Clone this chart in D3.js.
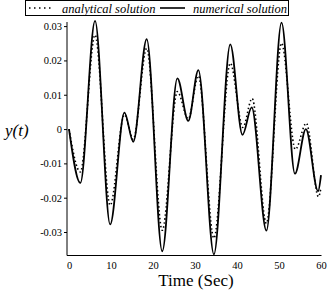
<!DOCTYPE html>
<html>
<head>
<meta charset="utf-8">
<script src="https://cdn.jsdelivr.net/npm/d3@7"></script>
<style>
  body { margin: 0; background: #fff; }
  svg text { font-family: "Liberation Serif", "DejaVu Serif", serif; fill: #000; }
</style>
</head>
<body>
<div id="chart"></div>
<script>
// time of each extremum (s)
var timeNum = [0, 2.7, 6.2, 9.8, 13.2, 15.3, 18.5, 22.2, 25.8, 28.4, 30.8, 34.5, 38.4, 41.3, 43.5, 47.0, 50.6, 53.8, 56.4, 59.3, 60];
var yNum    = [0, -0.0157, 0.0315, -0.0278, 0.0048, -0.0037, 0.0262, -0.0356, 0.0148, 0.0024, 0.0172, -0.0365, 0.0247, -0.0017, 0.0063, -0.0296, 0.0310, -0.0130, 0.0000, -0.0181, -0.0134];

var timeAna = [0, 2.7, 6.2, 9.8, 13.2, 15.3, 18.5, 22.2, 25.8, 28.4, 30.8, 34.5, 38.4, 41.4, 43.6, 47.0, 50.6, 53.9, 56.5, 59.4, 60];
var yAna    = [0, -0.0125, 0.0274, -0.0222, 0.0042, -0.0030, 0.0235, -0.0295, 0.0109, 0.0030, 0.0155, -0.0318, 0.0192, 0.0005, 0.0089, -0.0275, 0.0250, -0.0059, 0.0017, -0.0197, -0.0170];

var yTicks = [-0.03, -0.02, -0.01, 0, 0.01, 0.02, 0.03];
var xTicks = [0, 10, 20, 30, 40, 50, 60];

var width = 329, height = 292,
	serif = "'Liberation Serif', 'DejaVu Serif', serif";

var svg = d3.select("#chart").append("svg")
	.attr("width", width)
	.attr("height", height);

var xScale = d3.scaleLinear().domain([0, 60]).range([69, 321]);
var yScale = d3.scaleLinear().domain([-0.0367, 0.0312]).range([255, 22]);

//axes
var yAxis = d3.axisLeft(yScale)
	.tickValues(yTicks)
	.tickSize(3)
	.tickSizeOuter(0)
	.tickFormat(function(d) { return d === 0 ? "0" : d.toFixed(2); });

var gy = svg.append("g")
	.attr("transform", "translate(67,0)")
	.call(yAxis);
gy.attr("font-family", null);
gy.select(".domain").remove();
gy.selectAll("text")
	.style("font-family", serif)
	.style("font-size", "10.5px")
	.attr("x", -5);

var xAxis = d3.axisBottom(xScale)
	.tickValues(xTicks)
	.tickSize(0)
	.tickFormat(d3.format("d"));

var gx = svg.append("g")
	.attr("transform", "translate(0,255.5)")
	.call(xAxis);
gx.attr("font-family", null);
gx.select(".domain").remove();
gx.selectAll("text")
	.style("font-family", serif)
	.style("font-size", "10.5px")
	.attr("y", 6);

svg.append("line")
	.attr("x1", 67).attr("x2", 67)
	.attr("y1", 22).attr("y2", 255.5)
	.attr("stroke", "#000").attr("stroke-width", 1);
svg.append("line")
	.attr("x1", 67).attr("x2", 321.5)
	.attr("y1", 255.5).attr("y2", 255.5)
	.attr("stroke", "#000").attr("stroke-width", 1);

//curves
var numData = timeNum.map(function(t, i) { return [t, yNum[i]]; });
var anaData = timeAna.map(function(t, i) { return [t, yAna[i]]; });

var line = d3.line()
	.x(function(d) { return xScale(d[0]); })
	.y(function(d) { return yScale(d[1]); })
	.curve(d3.curveMonotoneX);

svg.append("path")
	.datum(anaData)
	.attr("d", line)
	.attr("fill", "none")
	.attr("stroke", "#000")
	.attr("stroke-width", 1.6)
	.attr("stroke-dasharray", "1.5,2.5");

svg.append("path")
	.datum(numData)
	.attr("d", line)
	.attr("fill", "none")
	.attr("stroke", "#000")
	.attr("stroke-width", 1.8);

//labels
svg.append("text")
	.attr("x", 196)
	.attr("y", 286)
	.attr("text-anchor", "middle")
	.style("font-family", serif)
	.style("font-size", "17px")
	.text("Time (Sec)");

svg.append("text")
	.attr("x", 5)
	.attr("y", 136)
	.style("font-family", serif)
	.style("font-size", "17px")
	.style("font-style", "italic")
	.text("y(t)");

//legend
var legend = svg.append("g");
legend.append("rect")
	.attr("x", 25.5).attr("y", 0.5)
	.attr("width", 263).attr("height", 15)
	.attr("fill", "#fff")
	.attr("stroke", "#000")
	.attr("stroke-width", 1);
legend.append("line")
	.attr("x1", 29).attr("x2", 54)
	.attr("y1", 8).attr("y2", 8)
	.attr("stroke", "#000").attr("stroke-width", 1.6)
	.attr("stroke-dasharray", "1.5,3.5");
legend.append("text")
	.attr("x", 62).attr("y", 12.5)
	.style("font-family", serif)
	.style("font-size", "12.5px")
	.style("font-style", "italic")
	.text("analytical solution");
legend.append("line")
	.attr("x1", 160).attr("x2", 185)
	.attr("y1", 8).attr("y2", 8)
	.attr("stroke", "#000").attr("stroke-width", 1.6);
legend.append("text")
	.attr("x", 193).attr("y", 12.5)
	.style("font-family", serif)
	.style("font-size", "12.5px")
	.style("font-style", "italic")
	.text("numerical solution");
</script>
</body>
</html>
